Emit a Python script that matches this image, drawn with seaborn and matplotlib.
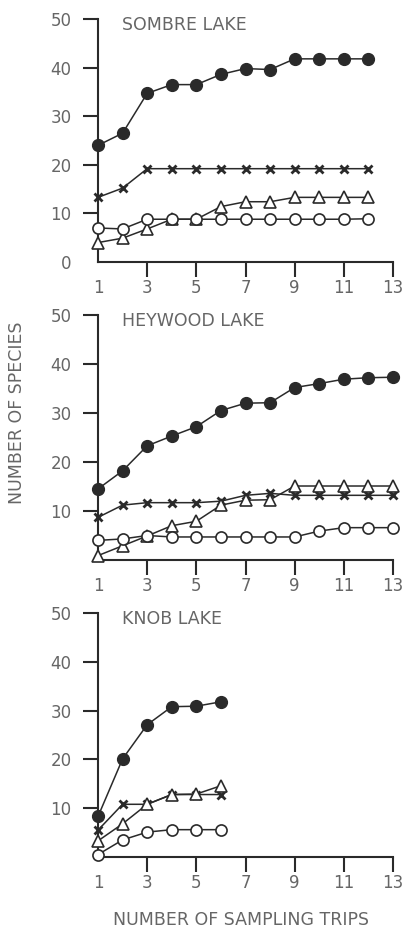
import matplotlib
matplotlib.use("Agg")
import matplotlib.pyplot as plt
import seaborn as sns

# ── Data ─────────────────────────────────────────────────────────────────────
lakes = ["SOMBRE LAKE", "HEYWOOD LAKE", "KNOB LAKE"]

sombre_trips = list(range(1, 13))
sombre_filled = [24.0, 26.5, 34.7, 36.5, 36.5, 38.6, 39.8, 39.6, 41.8, 41.8, 41.8, 41.8]
sombre_cross = [13.3, 15.2, 19.2, 19.2, 19.2, 19.2, 19.2, 19.2, 19.2, 19.2, 19.2, 19.2]
sombre_tri = [4.0, 4.9, 6.8, 8.8, 8.8, 11.4, 12.4, 12.4, 13.3, 13.3, 13.3, 13.3]
sombre_open = [7.0, 6.8, 8.8, 8.8, 8.8, 8.8, 8.8, 8.8, 8.8, 8.8, 8.8, 8.9]

heywood_trips = list(range(1, 14))
heywood_filled = [14.5, 18.2, 23.3, 25.3, 27.2, 30.5, 32.0, 32.1, 35.2, 36.0, 36.9, 37.2, 37.3]
heywood_cross = [8.7, 11.2, 11.7, 11.7, 11.7, 12.0, 13.2, 13.6, 13.2, 13.2, 13.2, 13.2, 13.2]
heywood_tri = [0.9, 2.9, 4.9, 7.0, 7.9, 11.2, 12.2, 12.3, 15.1, 15.1, 15.1, 15.1, 15.1]
heywood_open = [4.0, 4.3, 5.0, 4.7, 4.7, 4.7, 4.7, 4.7, 4.7, 5.9, 6.6, 6.6, 6.6]

knob_trips = list(range(1, 7))
knob_filled = [8.3, 20.1, 27.1, 30.8, 30.9, 31.8]
knob_cross = [5.5, 10.8, 10.8, 12.8, 12.8, 12.8]
knob_tri = [3.3, 6.8, 10.8, 12.8, 12.9, 14.6]
knob_open = [0.5, 3.5, 5.1, 5.6, 5.6, 5.6]

x_ticks = [1, 3, 5, 7, 9, 11, 13]

panels = [
    (sombre_trips, sombre_filled, sombre_cross, sombre_tri, sombre_open),
    (heywood_trips, heywood_filled, heywood_cross, heywood_tri, heywood_open),
    (knob_trips, knob_filled, knob_cross, knob_tri, knob_open),
]

# ── Style ────────────────────────────────────────────────────────────────────
sns.set_theme(style="white")
plt.rcParams["font.family"] = ["DejaVu Sans"]

INK = "#2a2a2a"
TXT = "#666666"
W, H = 403, 931

fig = plt.figure(figsize=(W / 100, H / 100), dpi=100)

# pixel boxes: (top, bottom) of the y axis for each panel
boxes = [(19, 262), (315, 560), (613, 857)]
left_px, right_px = 98, 393

for i, ((top, bot), name, data) in enumerate(zip(boxes, lakes, panels)):
    ax = fig.add_axes([left_px / W, (H - bot) / H,
                       (right_px - left_px) / W, (bot - top) / H])
    trips, filled, cross, tri, opn = data

    common = dict(ax=ax, color=INK, linewidth=1.1, clip_on=False)
    sns.lineplot(x=trips, y=cross, marker="x", markersize=5.5,
                 markeredgewidth=2.0, markeredgecolor=INK, zorder=3, **common)
    sns.lineplot(x=trips, y=tri, marker="^", markersize=9,
                 markerfacecolor="white", markeredgecolor=INK,
                 markeredgewidth=1.2, zorder=4, **common)
    sns.lineplot(x=trips, y=opn, marker="o", markersize=8,
                 markerfacecolor="white", markeredgecolor=INK,
                 markeredgewidth=1.2, zorder=5, **common)
    sns.lineplot(x=trips, y=filled, marker="o", markersize=8.5,
                 markerfacecolor=INK, markeredgecolor=INK,
                 markeredgewidth=1.0, zorder=6, **common)

    ax.set_xlim(1, 13)
    ax.set_ylim(0, 50)
    ax.set_xticks(x_ticks)
    ax.set_xticklabels([str(t) for t in x_ticks])
    if i == 0:
        ax.set_yticks([0, 10, 20, 30, 40, 50])
    else:
        ax.set_yticks([10, 20, 30, 40, 50])

    for side in ("top", "right"):
        ax.spines[side].set_visible(False)
    for side in ("left", "bottom"):
        ax.spines[side].set_linewidth(1.5)
        ax.spines[side].set_color(INK)

    ax.tick_params(axis="both", direction="out", length=11, width=1.5,
                   color=INK, labelcolor=TXT, labelsize=12)
    ax.tick_params(axis="y", pad=8, left=True)
    ax.tick_params(axis="x", pad=1, bottom=True)
    ax.xaxis.get_major_ticks()[0].tick1line.set_visible(False)
    if i == 0:
        ax.yaxis.get_major_ticks()[0].tick1line.set_visible(False)

    ax.set_xlabel("")
    ax.set_ylabel("")
    ax.grid(False)
    ax.text(24 / (right_px - left_px), 1 - 6 / (bot - top), name,
            transform=ax.transAxes, ha="left", va="center",
            fontsize=12.5, color=TXT)

fig.text(17 / W, 1 - 413 / H, "NUMBER OF SPECIES", rotation=90,
         ha="center", va="center", fontsize=12.5, color=TXT)
fig.text(241 / W, 1 - 920 / H, "NUMBER OF SAMPLING TRIPS",
         ha="center", va="center", fontsize=12.5, color=TXT)

fig.savefig("out.png", dpi=100, facecolor="white")
plt.close(fig)
